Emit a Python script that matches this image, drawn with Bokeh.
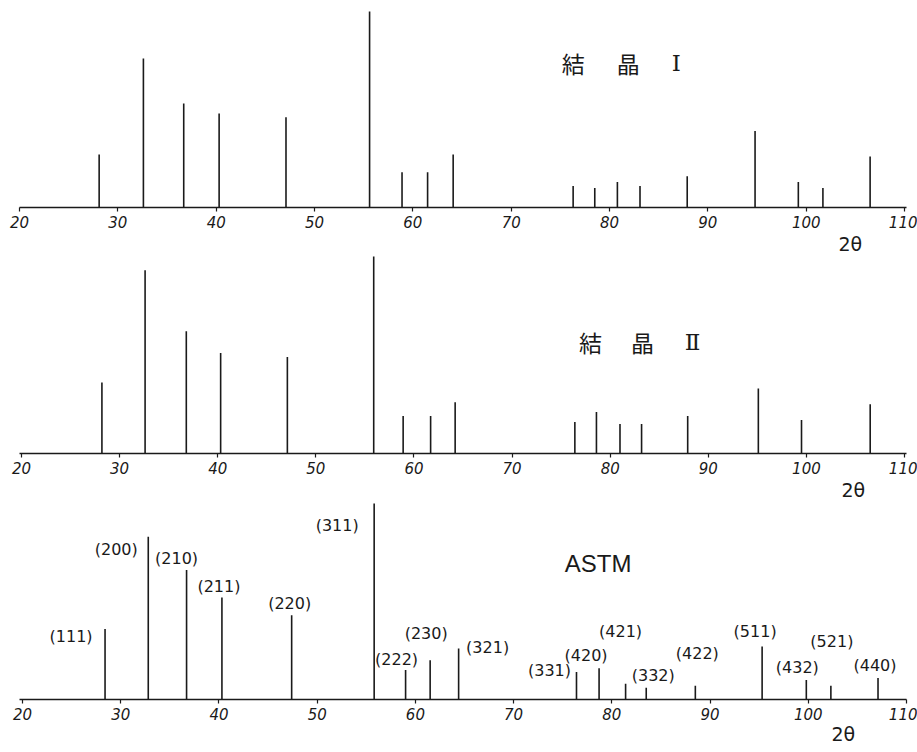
from bokeh.plotting import figure
from bokeh.layouts import column
from bokeh.models import Range1d, Label, ColumnDataSource, FixedTicker, Title
from bokeh.core.properties import value
from bokeh.embed import file_html
from bokeh.resources import INLINE

# ---------------- data ----------------
tick_values = [20, 30, 40, 50, 60, 70, 80, 90, 100, 110]

cryst1_2theta = [28.1, 32.6, 36.7, 40.3, 47.1, 55.6, 58.9, 61.5, 64.1,
                 76.3, 78.5, 80.8, 83.1, 87.9, 94.8, 99.2, 101.7, 106.5]
cryst1_int = [27, 76, 53, 48, 46, 100, 18, 18, 27,
              11, 10, 13, 11, 16, 39, 13, 10, 26]

cryst2_2theta = [28.2, 32.6, 36.8, 40.3, 47.1, 55.9, 58.9, 61.7, 64.2,
                 76.4, 78.6, 81.0, 83.2, 87.9, 95.1, 99.5, 106.5]
cryst2_int = [36, 93, 62, 51, 49, 100, 19, 19, 26,
              16, 21, 15, 15, 19, 33, 17, 25]

astm_2theta = [28.4, 32.8, 36.7, 40.3, 47.4, 55.8, 59.0, 61.5, 64.4,
               76.4, 78.7, 81.4, 83.5, 88.5, 95.3, 99.8, 102.3, 107.1]
astm_int = [36, 83, 66, 52, 43, 100, 15, 20, 26,
            14, 16, 8, 6, 7, 27, 10, 7, 11]
astm_hkl = ["(111)", "(200)", "(210)", "(211)", "(220)", "(311)", "(222)",
            "(230)", "(321)", "(331)", "(420)", "(421)", "(332)", "(422)",
            "(511)", "(432)", "(521)", "(440)"]

title1_chars = ["結", "晶", "Ⅰ"]
title2_chars = ["結", "晶", "Ⅱ"]
title3 = "ASTM"
xlabel = "2θ"

# layout only: label placement (screen px relative to peak top)
hkl_dx = [-34, -32, -10, -3, -2, -37, -9, -4, 29, -27, -13, -5, 7, 2, -7, -9, 1, -3]
hkl_dy = [8, 13, -12, -11, -12, 22, -11, -27, -1, -2, -13, -52, -12, -32, -15, -12, -44, -12]

INK = "#1a1a1a"
TICK_FONT = "DejaVu Sans"


def make_panel(height, bottom, xmin, xmax, ymax, xs, ys, xlab_offset, xlab_standoff):
    p = figure(width=917, height=height, output_backend="svg",
               toolbar_location=None, y_axis_location=None,
               x_range=Range1d(xmin, xmax), y_range=Range1d(0, ymax),
               min_border_left=19, min_border_right=11,
               min_border_top=0, min_border_bottom=bottom)
    p.outline_line_color = None
    p.xgrid.visible = False
    p.ygrid.visible = False
    p.background_fill_color = "white"
    p.border_fill_color = "white"
    ax = p.xaxis[0]
    ax.ticker = FixedTicker(ticks=tick_values)
    ax.axis_line_color = INK
    ax.axis_line_width = 1.5
    ax.major_tick_line_color = INK
    ax.major_tick_line_width = 1.2
    ax.major_tick_in = 0
    ax.major_tick_out = 4
    ax.minor_tick_line_color = None
    ax.major_label_standoff = 4
    ax.major_label_text_font = TICK_FONT
    ax.major_label_text_font_size = "15px"
    ax.major_label_text_font_style = "italic"
    ax.major_label_text_color = INK
    src = ColumnDataSource(dict(x=xs, y=ys, y0=[0] * len(xs)))
    p.segment(x0="x", y0="y0", x1="x", y1="y", source=src,
              line_color=INK, line_width=1.6)
    p.add_layout(Title(text=xlabel, align="left", offset=xlab_offset,
                       standoff=xlab_standoff, text_font="DejaVu Sans",
                       text_font_size="19px", text_font_style="normal",
                       text_color=INK), "below")
    return p


def add_title(p, xs, y, chars, fonts):
    for x, ch, f in zip(xs, chars, fonts):
        p.add_layout(Label(x=x, y=y, text=ch, text_align="center",
                           text_baseline="middle", text_font=f,
                           text_font_size="23px", text_color=INK))


# panel 1
p1 = make_panel(254, 47, 20, 110.2, 105.6, cryst1_2theta, cryst1_int, 819, 0)
add_title(p1, [76.3, 81.9, 86.8], 73.5, title1_chars,
          ["Noto Sans CJK JP", "Noto Sans CJK JP", "DejaVu Serif"])

# panel 2
p2 = make_panel(246, 46, 19.8, 110.2, 101, cryst2_2theta, cryst2_int, 822, 0)
add_title(p2, [78.0, 83.3, 88.4], 56.6, title2_chars,
          ["Noto Sans CJK JP", "Noto Sans CJK JP", "DejaVu Serif"])

# panel 3
p3 = make_panel(252, 53, 19.69, 110, 101.5, astm_2theta, astm_int, 812, -4)
lab_src = ColumnDataSource(dict(x=astm_2theta, y=astm_int, text=astm_hkl,
                                dx=hkl_dx, dy=hkl_dy))
p3.text(x="x", y="y", text="text", x_offset="dx", y_offset="dy",
        source=lab_src, text_align="center", text_baseline="middle",
        text_font=value("DejaVu Sans"), text_font_size="16px", text_color=INK)
p3.add_layout(Label(x=78.6, y=69.4, text=title3, text_align="center",
                    text_baseline="middle", text_font="Liberation Sans",
                    text_font_size="24px", text_color=INK))

layout = column(p1, p2, p3, spacing=0)
open("out.html", "w").write(file_html(layout, INLINE))
